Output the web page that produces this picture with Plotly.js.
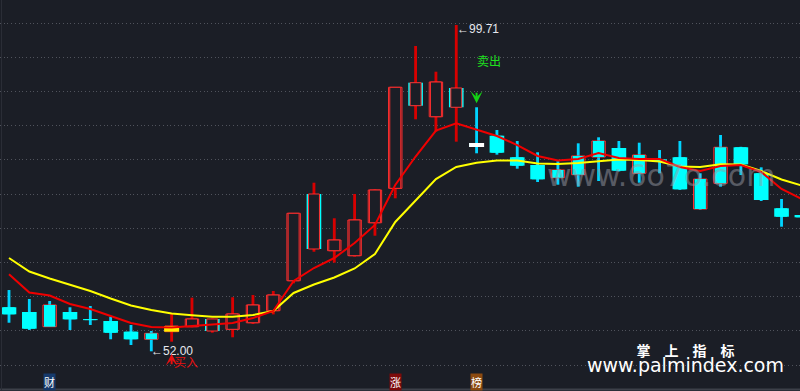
<!DOCTYPE html>
<html><head><meta charset="utf-8">
<script src="https://cdn.plot.ly/plotly-3.0.1.min.js"></script>
<style>html,body{margin:0;padding:0;background:#1b1e26;overflow:hidden}#chart{width:800px;height:391px}</style>
</head><body><div id="chart"></div>
<script>
// ---- data ----
const openP  = [58.44,57.75,55.60,57.75,56.60,56.43,54.87,53.76,54.87,55.60,56.73,55.22,56.18,57.94,62.32,75.00,66.71,65.98,70.80,75.83,91.27,86.30,90.50,82.46,83.52,80.37,79.24,77.38,77.82,80.41,81.73,78.03,80.07,80.37,72.81,76.56,81.83,78.03,72.91,71.93];
const highP  = [60.96,59.65,59.36,58.44,58.63,57.06,55.85,54.97,57.56,59.84,56.80,59.90,60.23,60.82,72.18,76.65,71.45,75.00,75.70,90.60,96.64,92.88,99.71,87.68,84.36,82.75,81.10,79.78,82.41,83.29,82.75,82.50,81.43,82.75,78.03,83.63,81.90,78.90,74.27,72.00];
const lowP   = [56.18,55.12,55.60,55.12,55.85,53.76,52.92,52.00,53.41,55.50,54.72,54.05,56.00,57.40,61.94,66.56,64.96,65.83,68.90,74.37,85.92,84.11,82.65,80.95,80.75,78.70,76.75,76.36,76.07,76.90,78.30,76.65,78.03,75.60,72.70,76.07,77.78,73.98,70.22,71.50];
const closeP = [57.41,55.31,58.77,56.68,56.56,54.72,53.76,54.63,55.70,56.73,54.97,57.46,58.77,60.23,72.18,66.96,68.27,71.20,75.58,90.60,87.91,91.37,87.68,81.87,81.04,79.14,77.15,78.51,80.56,82.75,78.41,80.70,79.72,75.69,77.19,81.83,79.34,74.12,71.68,71.59];
const maFast = [63.26,60.60,60.16,58.92,58.19,57.16,56.14,55.56,55.48,55.70,55.92,56.14,56.87,57.89,62.28,64.18,65.64,67.84,70.47,76.32,80.48,84.28,85.34,84.36,83.48,82.16,80.56,79.90,80.12,80.99,80.26,80.12,80.12,78.95,78.36,79.09,79.24,78.22,75.73,74.27];
const maSlow = [65.64,63.67,62.65,61.70,60.82,59.72,58.70,58.04,57.53,57.27,57.06,57.06,57.31,57.89,60.53,61.77,62.79,64.11,66.23,70.91,73.98,77.19,78.95,79.58,79.90,79.90,79.46,79.39,79.53,79.82,80.04,79.97,79.75,79.02,78.95,79.34,79.31,78.36,77.12,76.24];
// indicator state: 1 hold, -1 empty, 2 buy signal, -2 sell signal
const state  = [-1,-1,-1,-1,-1,-1,-1,-1,2,1,1,1,1,1,1,1,1,1,1,1,1,1,1,-2,-1,-1,-1,-1,-1,-1,-1,-1,-1,-1,-1,-1,-1,-1,-1,-1];
const buyText = '买入', sellText = '卖出';
const tags = ['财','涨','榜'];
const watermark = 'www.6o7o.com';
const brand1 = '掌　上　指　标', brand2 = 'www.palmindex.com';

// ---- styles ----
const BG='#1b1e26', RED='#ff2e2e', WRED='#d80000', CYAN='#00ffff', WCYAN='#00d4ff', YEL='#ffee00';
const PXU = 6.84; // px per price unit (used only for axis range / offsets)
const n = openP.length, idx = [...Array(n).keys()];
const minH = 0.15;

const up = idx.map(i => closeP[i] >= openP[i]);
const base = idx.map(i => Math.min(openP[i], closeP[i]));
const hgt = idx.map(i => Math.max(Math.abs(closeP[i]-openP[i]), minH));

const wickCol = idx.map(i => state[i]===1 ? WRED : state[i]===-1 ? WCYAN : (up[i]?WRED:WCYAN));
const wick = {type:'bar', x:idx, base:lowP, y:idx.map(i=>highP[i]-lowP[i]), width:0.14,
  marker:{color:wickCol, line:{width:0}}, hoverinfo:'skip'};

const mainBody = {type:'bar', x:idx, base:base, y:hgt,
  width: idx.map(i=> up[i]?0.66:0.72),
  marker:{color: idx.map(i=> up[i]?BG:CYAN), line:{color: idx.map(i=> up[i]?RED:CYAN), width: idx.map(i=> up[i]?1:0)}},
  hoverinfo:'skip'};

const indFill = idx.map(i => state[i]===1?BG : state[i]===-1?CYAN : state[i]===2?YEL : '#ffffff');
const indBody = {type:'bar', x:idx, base:base, y:hgt,
  width: idx.map(i => state[i]===1?0.54 : state[i]===-1?0.56 : 0.74),
  marker:{color:indFill, line:{color: idx.map(i=> state[i]===1?RED:indFill[i]), width: idx.map(i=> state[i]===1?1:0)}},
  hoverinfo:'skip'};

const lineFast = {type:'scatter', mode:'lines', x:idx, y:maFast, line:{color:'#f00000', width:2}, hoverinfo:'skip'};
const lineSlow = {type:'scatter', mode:'lines', x:idx, y:maSlow, line:{color:'#ffff00', width:2}, hoverinfo:'skip'};

// extremes
let iMax=0,iMin=0; idx.forEach(i=>{ if(highP[i]>highP[iMax]) iMax=i; if(lowP[i]<lowP[iMin]) iMin=i; });
const iBuy = state.indexOf(2), iSell = state.indexOf(-2);

const annFont = {family:'Liberation Sans, DejaVu Sans', size:12, color:'#e6e8ee'};
const P = (x,y) => ({x:x/800, y:(391-y)/391, xref:'paper', yref:'paper', xanchor:'center', yanchor:'middle', showarrow:false});
const annotations = [
  {x:iMin, y:lowP[iMin], xref:'x', yref:'y', text:'←'+lowP[iMin].toFixed(2), showarrow:false, xanchor:'left', yanchor:'middle', xshift:-2, font:annFont},
  {x:iMax, y:highP[iMax], xref:'x', yref:'y', text:'←'+highP[iMax].toFixed(2), showarrow:false, xanchor:'left', yanchor:'middle', xshift:-1, yshift:-4, font:annFont},
  // sell
  {x:iSell, y:highP[iSell], xref:'x', yref:'y', text:'', showarrow:true, ax:0, ay:-12, yshift:4, arrowhead:3, arrowsize:1, arrowwidth:2, arrowcolor:'#14d214'},
  {x:iSell, y:highP[iSell], xref:'x', yref:'y', text:sellText, showarrow:false, xanchor:'center', yanchor:'middle', xshift:12, yshift:47, font:{family:'Noto Sans CJK SC', size:12, color:'#1ee01e'}},
  // buy
  {x:iBuy, y:lowP[iBuy], xref:'x', yref:'y', text:'', showarrow:true, ax:0, ay:12, yshift:-12, arrowhead:3, arrowsize:1, arrowwidth:2, arrowcolor:'#e81010'},
  {x:iBuy, y:lowP[iBuy], xref:'x', yref:'y', text:buyText, showarrow:false, xanchor:'center', yanchor:'middle', xshift:14, yshift:-20, font:{family:'Noto Sans CJK SC', size:12, color:'#e81010'}},
  // watermark
  Object.assign(P(661,175), {text:watermark, font:{family:'DejaVu Sans', size:30, color:'rgba(150,153,162,0.5)'}}),
  // brand (two lines in one text block)
  Object.assign(P(685,358), {text:"<span style=\"font-family:'Noto Sans CJK SC';font-size:14px\"><b>"+brand1+"</b></span><br><span style=\"font-size:19px\">"+brand2+"</span>",
    font:{family:'DejaVu Sans', size:12.5, color:'#ffffff'}}),
];
const tagX = [49, 395.5, 476.5], tagBg = ['#163a6c','#7d0b0b','#8c4a10'];
tags.forEach((t,k)=>annotations.push(Object.assign(P(tagX[k],381.5), {text:t, bgcolor:tagBg[k], borderpad:0,
  font:{family:'Noto Sans CJK SC', size:11, color:'#ffffff'}})));

const layout = {
  width:800, height:391, margin:{l:0,r:0,t:0,b:0},
  paper_bgcolor:BG, plot_bgcolor:BG, showlegend:false, barmode:'overlay',
  font:{family:'Noto Sans CJK SC'},
  xaxis:{range:[-9/20.33, 791/20.33], showgrid:false, zeroline:false, showticklabels:false, ticks:'', fixedrange:true},
  yaxis:{range:[100-368/PXU, 100+23/PXU], tick0:50, dtick:5, showgrid:true, gridcolor:'#50535c', griddash:'1px,2.7px', gridwidth:1,
         zeroline:false, showticklabels:false, ticks:'', fixedrange:true},
  shapes:[
    {type:'line', xref:'paper', yref:'paper', x0:0, x1:1, y0:1.5/391, y1:1.5/391, line:{color:'#3d4049', width:2}},
    {type:'line', xref:'paper', yref:'paper', x0:1.5/800, x1:1.5/800, y0:0, y1:1, line:{color:'#2a2d36', width:1}}
  ],
  annotations:annotations
};
Plotly.newPlot('chart', [lineSlow, lineFast, wick, mainBody, indBody], layout, {staticPlot:true, displayModeBar:false});
</script></body></html>
